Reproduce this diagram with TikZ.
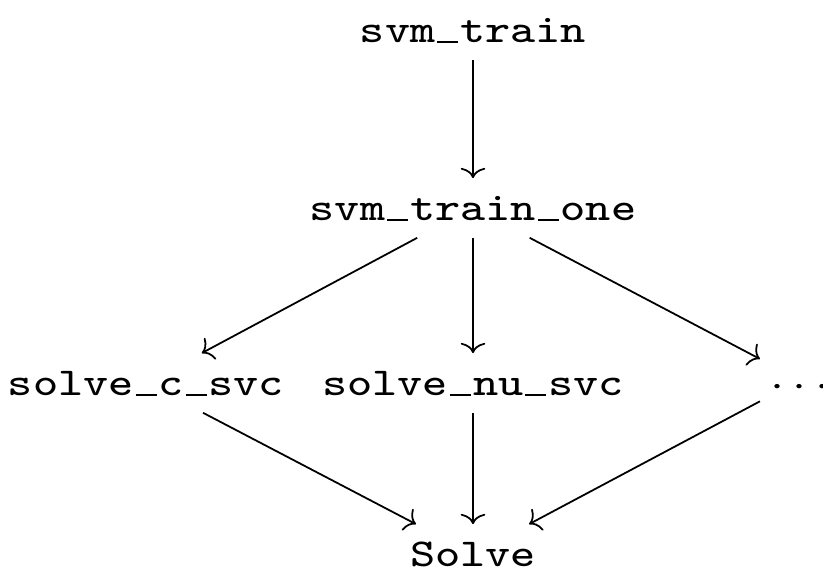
\documentclass[tikz,border=0pt]{standalone}
\usepackage{graphicx}
\usetikzlibrary{arrows.meta}

% underscore drawn as a short rule on the baseline, one monospace cell wide
\newcommand\usc{\makebox[0.525em]{\rule[-0.025em]{0.44em}{0.055em}}}
% labels: small optical size, enlarged and set slightly wide
\newcommand\wide[1]{\scalebox{1.5}[1.25]{\fontsize{8}{9.6}\selectfont #1}}

\begin{document}
\begin{tikzpicture}[x=0.2532pt, y=-0.2532pt,
  fn/.style={anchor=base, font=\ttfamily, text height=6.11pt, text depth=0pt,
             inner ysep=4.3pt, inner xsep=4pt},
  link/.style={-{Computer Modern Rightarrow[length=2.6pt,width=6.2pt]}, line width=0.45pt}]
\useasboundingbox (0,0) rectangle (823,578);

\node[fn] (train)  at (473,42)  {\wide{svm\usc train}};
\node[fn] (one)    at (473,220) {\wide{svm\usc train\usc one}};
\node[fn] (csvc)   at (146,395) {\wide{solve\usc c\usc svc}};
\node[fn] (nusvc)  at (473,395) {\wide{solve\usc nu\usc svc}};
\node[anchor=base, inner xsep=2.5pt, inner ysep=1.3pt,
      text height=8.1pt, text depth=0pt] (more) at (800,396) {\wide{$\cdots$}};
\node[fn] (solve)  at (473,566) {\wide{Solve}};

\draw[link] (train) -- (one);
\draw[link] (one) -- (csvc);
\draw[link] (one) -- (nusvc);
\draw[link] (one) -- (more);
\draw[link] (csvc) -- (solve);
\draw[link] (nusvc) -- (solve);
\draw[link] (more) -- (solve);
\end{tikzpicture}
\end{document}
